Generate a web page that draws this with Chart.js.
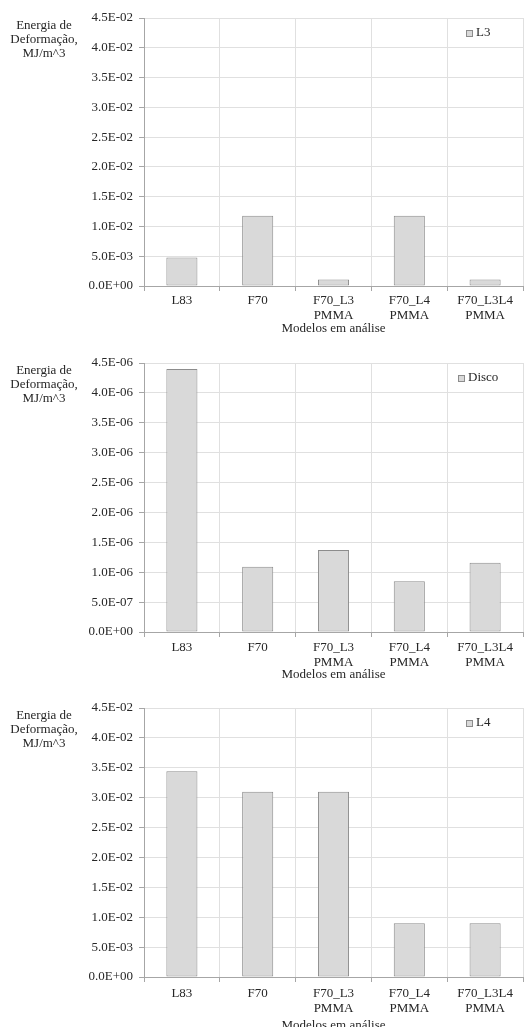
<!DOCTYPE html>
<html>
<head>
<meta charset="utf-8">
<script src="https://cdn.jsdelivr.net/npm/chart.js@4.4.1/dist/chart.umd.min.js"></script>
<style>
  html, body { margin: 0; padding: 0; background: #fff; width: 525px; height: 1027px; overflow: hidden; }
  canvas { position: absolute; left: 0; display: block; }
</style>
</head>
<body>
<canvas id="chartL3" width="525" height="345" style="top:0px"></canvas>
<canvas id="chartDisco" width="525" height="345" style="top:345px"></canvas>
<canvas id="chartL4" width="525" height="345" style="top:690px"></canvas>
<script>
// Models compared on every panel
const categories = ['L83', 'F70', ['F70_L3', 'PMMA'], ['F70_L4', 'PMMA'], ['F70_L3L4', 'PMMA']];

// Strain energy per model, MJ/m^3
const energyL3    = [0.0048, 0.0118, 0.0011, 0.0118, 0.0011];
const energyDisco = [4.40e-6, 1.09e-6, 1.37e-6, 0.85e-6, 1.16e-6];
const energyL4    = [0.0344, 0.0310, 0.0310, 0.0090, 0.0090];

// Tick labels (scientific notation as printed on the axes)
const ticksE02 = ['0.0E+00', '5.0E-03', '1.0E-02', '1.5E-02', '2.0E-02', '2.5E-02', '3.0E-02', '3.5E-02', '4.0E-02', '4.5E-02'];
const ticksE06 = ['0.0E+00', '5.0E-07', '1.0E-06', '1.5E-06', '2.0E-06', '2.5E-06', '3.0E-06', '3.5E-06', '4.0E-06', '4.5E-06'];

const yTitleLines = ['Energia de', 'Deformação,', 'MJ/m^3'];
const xTitleText = 'Modelos em análise';

const FONT = "'Liberation Serif', 'Times New Roman', 'DejaVu Serif', serif";
const TEXT = '#262626';
const GRID = '#e0e0e0';
const AXIS = '#a6a6a6';
const BAR_FILL = '#d9d9d9';
const BAR_EDGE = '#8c8c8c';

Chart.defaults.font.family = FONT;
Chart.defaults.font.size = 13;
Chart.defaults.color = TEXT;

// Horizontal multi-line y title plus an in-plot legend box
const decorations = {
  id: 'decorations',
  afterDraw(chart) {
    const ctx = chart.ctx;
    const area = chart.chartArea;
    ctx.save();
    ctx.font = '13px ' + FONT;
    ctx.fillStyle = TEXT;
    ctx.textAlign = 'center';
    ctx.textBaseline = 'middle';
    yTitleLines.forEach((line, i) => {
      ctx.fillText(line, 44, area.top + 7.5 + i * 14);
    });

    const label = chart.data.datasets[0].label;
    const boxSize = 6;
    const gap = 4;
    const textW = ctx.measureText(label).width;
    const total = boxSize + gap + textW;
    const cx = area.right - 45;
    const cy = area.top + 15;
    const x0 = Math.round(cx - total / 2);
    ctx.fillStyle = BAR_FILL;
    ctx.fillRect(x0 + 0.5, Math.round(cy - boxSize / 2) + 0.5, boxSize, boxSize);
    ctx.strokeStyle = BAR_EDGE;
    ctx.lineWidth = 1;
    ctx.strokeRect(x0 + 0.5, Math.round(cy - boxSize / 2) + 0.5, boxSize, boxSize);
    ctx.fillStyle = TEXT;
    ctx.textAlign = 'left';
    ctx.fillText(label, x0 + boxSize + gap, cy);
    ctx.restore();
  }
};

function makeChart(id, label, values, tickLabels, yMax, yStep, plotBottom, tickPad, titleCenter) {
  const canvas = document.getElementById(id);
  const H = canvas.height;
  const lineH = 15;
  return new Chart(canvas, {
    type: 'bar',
    data: {
      labels: categories,
      datasets: [{
        label: label,
        data: values,
        backgroundColor: BAR_FILL,
        borderColor: BAR_EDGE,
        borderWidth: 1,
        borderSkipped: false,
        categoryPercentage: 1.0,
        barPercentage: 0.41
      }]
    },
    options: {
      responsive: false,
      animation: false,
      devicePixelRatio: 1,
      layout: { padding: { top: 18, right: 2, bottom: 0, left: 0 } },
      plugins: {
        legend: { display: false },
        tooltip: { enabled: false }
      },
      scales: {
        x: {
          offset: true,
          grid: { color: GRID, offset: true, tickLength: 5, tickColor: AXIS },
          border: { color: AXIS },
          ticks: {
            color: TEXT,
            padding: tickPad,
            maxRotation: 0,
            autoSkip: false,
            font: { size: 13, lineHeight: lineH / 13 }
          },
          title: {
            display: true,
            text: xTitleText,
            color: TEXT,
            font: { size: 13, lineHeight: lineH / 13 },
            padding: { top: 0, bottom: H - titleCenter - lineH / 2 }
          },
          afterFit(scale) { scale.height = H - plotBottom; }
        },
        y: {
          min: 0,
          max: yMax,
          grid: { color: GRID, tickLength: 5, tickColor: AXIS },
          border: { color: AXIS },
          ticks: {
            stepSize: yStep,
            padding: 6,
            color: TEXT,
            font: { size: 13 },
            callback: (value, index) => tickLabels[index]
          },
          afterFit(scale) { scale.width = 144; }
        }
      }
    },
    plugins: [decorations]
  });
}

makeChart('chartL3', 'L3', energyL3, ticksE02, 0.045, 0.005, 286, 2, 329);
makeChart('chartDisco', 'Disco', energyDisco, ticksE06, 4.5e-6, 5e-7, 287, 3, 330);
makeChart('chartL4', 'L4', energyL4, ticksE02, 0.045, 0.005, 287, 4, 336);
</script>
</body>
</html>
